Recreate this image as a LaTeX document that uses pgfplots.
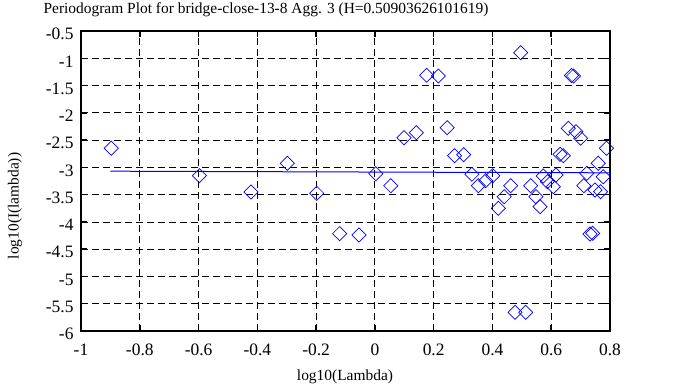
\documentclass[border=0pt]{standalone}
\usepackage{fontspec}
\setmainfont{Liberation Serif}
\usepackage{pgfplots}
\pgfplotsset{compat=1.18}
\begin{document}
\begin{tikzpicture}[x=1bp,y=1bp]
\useasboundingbox (0,0) rectangle (683,387);
\begin{axis}[
  at={(81bp,56bp)}, anchor=south west,
  scale only axis, width=529bp, height=300bp,
  xmin=-1, xmax=0.8, ymin=-6, ymax=-0.5,
  xtick={-1,-0.8,-0.6,-0.4,-0.2,0,0.2,0.4,0.6,0.8},
  xticklabels={-1,-0.8,-0.6,-0.4,-0.2,0,0.2,0.4,0.6,0.8},
  ytick={-6,-5.5,-5,-4.5,-4,-3.5,-3,-2.5,-2,-1.5,-1,-0.5},
  yticklabels={-6,-5.5,-5,-4.5,-4,-3.5,-3,-2.5,-2,-1.5,-1,-0.5},
  tick align=inside, major tick length=6bp,
  every tick/.style={black, line width=1.5bp},
  axis line style={line width=1.6bp},
  grid=major,
  major grid style={black, dash pattern=on 7bp off 4bp, line width=0.8bp},
  tick label style={font=\fontsize{17.5}{19}\selectfont},
  xticklabel style={yshift=-9bp},
  yticklabel style={xshift=-4bp, yshift=-3bp},
  clip=false,
]
\addplot[blue, line width=1bp] coordinates {(-0.9,-3.07) (0.8,-3.10)};
\addplot[blue, only marks, mark=square, mark size=5bp, mark options={rotate=45, line width=0.7bp}] coordinates {
(-0.897,-2.650) (-0.597,-3.153) (-0.4216,-3.451) (-0.298,-2.925) (-0.198,-3.475)
(-0.120,-4.216) (-0.054,-4.240) (0.003,-3.116) (0.054,-3.336) (0.099,-2.456)
(0.141,-2.364) (0.176,-1.312) (0.216,-1.325) (0.246,-2.273) (0.271,-2.786)
(0.302,-2.768) (0.330,-3.127) (0.352,-3.336) (0.377,-3.244) (0.401,-3.153)
(0.462,-3.336) (0.440,-3.538) (0.420,-3.750) (0.496,-0.898) (0.477,-5.657)
(0.513,-5.657) (0.530,-3.336) (0.548,-3.538) (0.562,-3.721) (0.573,-3.158)
(0.587,-3.263) (0.607,-3.354) (0.616,-3.140) (0.630,-2.760) (0.641,-2.786)
(0.658,-2.284) (0.669,-1.316) (0.676,-1.325) (0.684,-2.346) (0.700,-2.467)
(0.711,-3.336) (0.721,-3.109) (0.732,-4.221) (0.741,-4.209) (0.749,-3.415)
(0.760,-2.925) (0.768,-3.446) (0.777,-3.171) (0.788,-2.650)
};
\end{axis}
\node[font=\fontsize{15.5}{17}\selectfont] at (266,377) {Periodogram Plot for bridge-close-13-8 Agg. 3 (H=0.50903626101619)};
\node[font=\fontsize{15.5}{17}\selectfont] at (345,10) {log10(Lambda)};
\node[font=\fontsize{15.5}{17}\selectfont, rotate=90] at (15,181) {log10(I(lambda))};
\end{tikzpicture}
\end{document}
